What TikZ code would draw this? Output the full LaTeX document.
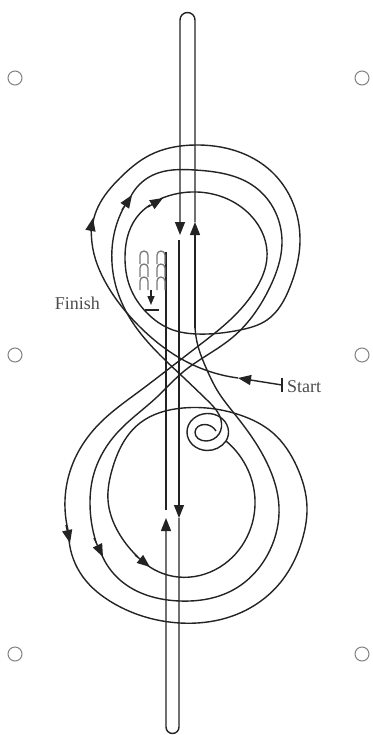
\documentclass[tikz,border=0pt]{standalone}
\usepackage{fontspec}
\setmainfont{Liberation Serif}
\usetikzlibrary{arrows.meta, positioning, hobby}
\definecolor{st-ink}{RGB}{35,35,35}
\definecolor{st-hole}{RGB}{130,130,130}
\definecolor{st-knit}{RGB}{120,120,120}
\tikzset{
  st@thread/.style={line width=1.4pt, st-ink, line join=round},
  st@arr/.style={st@thread, -{Triangle[length=13pt,width=10pt]}},
  st@knit/.style={line width=1.3pt, st-knit},
  st@hole/.style={circle, draw=st-hole, line width=1pt, fill=white, minimum size=14pt, inner sep=0pt},
  st@lbl/.style={font=\fontsize{18}{18}\selectfont, text=black!70, inner sep=0pt},
}

\begin{document}
\begin{tikzpicture}[x=1pt, y=-1pt, use Hobby shortcut]
  \useasboundingbox (0,0) rectangle (372,735);

  \node[st@hole] (holeTL) at (15,78)  {};
  \node[st@hole] (holeTR) at (362,78) {};
  \node[st@hole] (holeML) at (15,355) {};
  \node[st@hole] (holeMR) at (362,355) {};
  \node[st@hole] (holeBL) at (15,654) {};
  \node[st@hole] (holeBR) at (362,654) {};

  \node[st@lbl, anchor=west] (start)  at (287,387) {Start};
  \node[st@lbl, anchor=east] (finish) at (100,303) {Finish};

  % first thread
  \draw[st@thread] (282,378) -- (282,392);
  \draw[st@arr] (282,385) -- (238,378);
  \draw[st@arr] (238,378) .. (187,362) .. (140,327) .. (107,285) .. (92,243) .. (93,218);
  \draw[st@thread] (93,222) .. (98,207) .. (120,178) .. (150,155) .. (195,145) .. (272,172) .. (300,240) .. (290,287) .. (267,320) .. (240,330) .. (197,334) .. (173,330) .. (147,313) .. (130,287) .. (125,257) .. (133,223) .. (150,205);
  \draw[st@arr] (148,207) -- (163,198);
  \draw[st@thread] (160,199) .. (197,192) .. (245,210) .. (267,257) .. (257,287) .. (230,320) .. (197,347) .. (137,393) .. (100,423) .. (73,463) .. (65,500) .. (68,530);
  \draw[st@arr] (66,525) -- (70,543);
  \draw[st@thread] (69,540) .. (83,577) .. (113,603) .. (180,623) .. (240,613) .. (280,583) .. (303,537) .. (307,507) .. (297,467) .. (273,433) .. (240,415) .. (183,408) .. (140,423) .. (112,470) .. (108,500) .. (120,535) .. (138,557);
  \draw[st@arr] (135,555) -- (150,567);
  \draw[st@thread] (147,565) .. (178,577) .. (220,567) .. (247,537) .. (255,500) .. (248,470) .. (226,441);
  \draw[st@thread] (226,441) .. (207,450.5) .. (187,432) .. (207,413.5) .. (228,428) .. (226,441);

  % second thread
  \draw[st@thread] (216,431) .. (205,424.5) .. (195,432) .. (206,441) .. (219,434) .. (221,420) .. (207,400) .. (183,377) .. (133,323) .. (117,290) .. (112,263) .. (115,230) .. (124,207);
  \draw[st@arr] (122,210) -- (132,195);
  \draw[st@thread] (130,198) .. (153,175) .. (195,170) .. (255,187) .. (282,243) .. (270,287) .. (233,337) .. (183,372) .. (157,397) .. (117,433) .. (93,477) .. (90,503) .. (96,542);
  \draw[st@arr] (94,538) -- (103,557);
  \draw[st@thread] (101,553) .. (120,580) .. (180,601) .. (233,590) .. (270,550) .. (279,507) .. (267,463) .. (237,417) .. (217,390) .. (207,370) .. (197,342) .. (195,325);
  \draw[st@arr] (195,328) -- (195,222);
  \draw[st@arr] (195,222) -- (195,20) arc[start angle=0, end angle=-180, radius=7.5] -- (180,235);
  \draw[st@arr] (179,240) -- (179,518);
  \draw[st@arr] (179,518) -- (179,727) arc[start angle=0, end angle=180, radius=6.5] -- (166,518);
  \draw[st@thread] (166,510) -- (166,252);

  % knitted rows
  \foreach \row in {251,264,277} {
    \foreach \col in {148,165} {
      \draw[st@knit] (\col,\row+13) -- (\col,\row+4) arc[start angle=0, end angle=-180, radius=4] -- (\col-8,\row+13);
    }
  }
  \draw[st@thread, -{Triangle[length=9pt,width=7pt]}] (151,290) -- (151,305);
  \draw[st@thread] (145,310) -- (159,310);
\end{tikzpicture}
\end{document}
